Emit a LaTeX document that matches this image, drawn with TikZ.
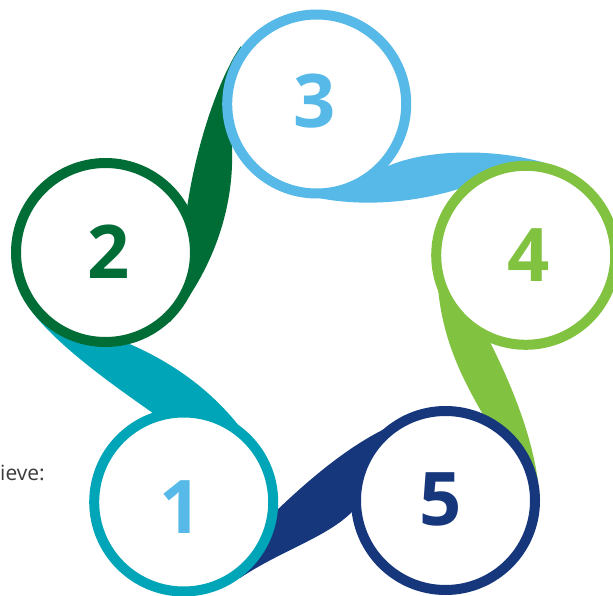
\documentclass[tikz,border=0pt]{standalone}
\usepackage{fontspec}
\setmainfont{Open Sans}
\definecolor{cteal}{HTML}{00A5B8}
\definecolor{cdgreen}{HTML}{006C36}
\definecolor{cblue}{HTML}{56B9E8}
\definecolor{clgreen}{HTML}{82C241}
\definecolor{cnavy}{HTML}{17377D}
\definecolor{cgray}{HTML}{3C3C3C}
\tikzset{
  ringnode/.style={circle, draw=#1, line width=10pt, fill=white, minimum size=179pt, inner sep=0pt},
  numnode/.style={text=#1, inner sep=0pt, font=\fontsize{74}{74}\selectfont\bfseries},
  ribbon/.style={fill=#1, draw=none},
}
\begin{document}
\begin{tikzpicture}[x=1pt,y=-1pt]
\fill[white] (0,0) rectangle (613,596);
\clip (0,0) rectangle (613,596);
% ribbons (drawn under the circles)
\fill[ribbon=cdgreen] (241,46) .. controls (222,72) and (196,140) .. (186,215) -- (170,322)
   .. controls (212,272) and (234,210) .. (232,150) .. controls (232,130) and (236,115) .. (240,100) -- cycle;
\fill[ribbon=cblue] (380,170) .. controls (420,148) and (495,148) .. (545,163) -- (470,185)
   .. controls (425,202) and (350,212) .. (290,190) -- cycle;
\fill[ribbon=clgreen] (488,338) .. controls (505,372) and (530,425) .. (538,481) -- (485,418)
   .. controls (460,375) and (437,330) .. (437,265) -- cycle;
\fill[ribbon=cnavy] (358,505) .. controls (335,535) and (285,548) .. (240,578) -- (272,515)
   .. controls (310,478) and (355,440) .. (400,422) -- cycle;
\fill[ribbon=cteal] (160,418) .. controls (120,390) and (62,350) .. (33,313) -- (120,340)
   .. controls (170,360) and (225,395) .. (262,460) -- cycle;
% circles
\node[ringnode=cteal] (c1) at (183.7,502) {};
\node[ringnode=cdgreen] (c2) at (105.5,252.5) {};
\node[ringnode=cblue] (c3) at (316.7,104) {};
\node[ringnode=clgreen] (c4) at (525.7,255.3) {};
\node[ringnode=cnavy] (c5) at (445.5,500.5) {};
% numbers
\node[numnode=cblue] (n1) at (181,507) {1};
\node[numnode=cdgreen] (n2) at (108.7,252) {2};
\node[numnode=cblue] (n3) at (315,101.3) {3};
\node[numnode=clgreen] (n4) at (529,254.7) {4};
\node[numnode=cnavy] (n5) at (440.5,499) {5};
% clipped side text
\node[anchor=base west, inner sep=0pt, text=cgray, font=\fontsize{21}{21}\selectfont] (t) at (0,480) {ieve:};
\end{tikzpicture}
\end{document}
